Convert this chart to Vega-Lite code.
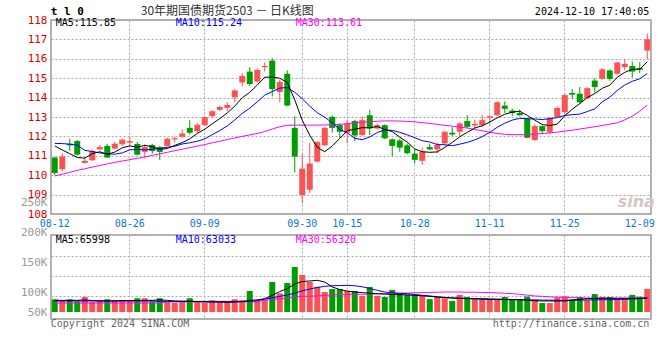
{
"$schema": "https://vega.github.io/schema/vega-lite/v6.json",
"background": "white",
"autosize": {"type": "pad"},
"padding": {"left": 19, "top": 4, "right": 9, "bottom": 5},
"bounds": "flush",
"spacing": 21,
"config": {
 "view": {"stroke": "#999", "strokeWidth": 1.5},
 "axis": {"labelFont": "DejaVu Sans Mono", "labelFontSize": 10, "ticks": false, "tickSize": 0, "domain": false, "gridColor": "#aaa", "gridDash": [2, 2], "gridWidth": 1}
},
"data": {"values": [
{"d":"08-12","o":110.91,"h":110.95,"l":110.00,"c":110.11,"v":61000,"m5":111.51,"m10":111.64,"m30":109.96,"vm5":56000,"vm10":53000,"vm30":43000},
{"d":"08-13","o":110.31,"h":111.13,"l":110.21,"c":110.96,"v":53000,"m5":111.30,"m10":111.63,"m30":110.05,"vm5":56000,"vm10":53000,"vm30":43000},
{"d":"08-14","o":111.62,"h":111.88,"l":111.25,"c":111.54,"v":61000,"m5":111.11,"m10":111.60,"m30":110.15,"vm5":56000,"vm10":53000,"vm30":43000},
{"d":"08-15","o":111.76,"h":111.81,"l":111.02,"c":111.06,"v":51000,"m5":110.91,"m10":111.55,"m30":110.25,"vm5":56000,"vm10":53000,"vm30":43000},
{"d":"08-16","o":110.63,"h":110.91,"l":110.60,"c":110.74,"v":72000,"m5":110.88,"m10":111.28,"m30":110.33,"vm5":58000,"vm10":53000,"vm30":43000},
{"d":"08-19","o":110.77,"h":111.33,"l":110.74,"c":111.25,"v":48000,"m5":111.11,"m10":111.22,"m30":110.42,"vm5":55000,"vm10":53000,"vm30":43000},
{"d":"08-20","o":111.33,"h":111.56,"l":111.30,"c":111.45,"v":53000,"m5":111.21,"m10":111.15,"m30":110.50,"vm5":53000,"vm10":53000,"vm30":43000},
{"d":"08-21","o":111.51,"h":111.62,"l":110.88,"c":110.91,"v":61000,"m5":111.08,"m10":111.10,"m30":110.58,"vm5":53000,"vm10":53000,"vm30":43000},
{"d":"08-22","o":111.37,"h":111.73,"l":111.33,"c":111.62,"v":56000,"m5":111.19,"m10":111.08,"m30":110.66,"vm5":53000,"vm10":53000,"vm30":43000},
{"d":"08-23","o":111.59,"h":111.90,"l":111.51,"c":111.83,"v":56000,"m5":111.41,"m10":111.15,"m30":110.73,"vm5":55000,"vm10":53000,"vm30":43000},
{"d":"08-26","o":111.68,"h":111.98,"l":111.45,"c":111.76,"v":53000,"m5":111.51,"m10":111.31,"m30":110.80,"vm5":55000,"vm10":53000,"vm30":43000},
{"d":"08-27","o":111.61,"h":111.71,"l":111.02,"c":111.06,"v":66000,"m5":111.44,"m10":111.32,"m30":110.87,"vm5":55000,"vm10":53000,"vm30":43000},
{"d":"08-28","o":111.20,"h":111.59,"l":110.86,"c":111.45,"v":66000,"m5":111.54,"m10":111.31,"m30":110.94,"vm5":56000,"vm10":53000,"vm30":43000},
{"d":"08-29","o":111.56,"h":111.62,"l":111.11,"c":111.25,"v":51000,"m5":111.47,"m10":111.33,"m30":111.02,"vm5":56000,"vm10":53000,"vm30":43000},
{"d":"08-30","o":111.45,"h":111.51,"l":110.79,"c":111.20,"v":66000,"m5":111.34,"m10":111.38,"m30":111.10,"vm5":58000,"vm10":51000,"vm30":43000},
{"d":"09-02","o":111.51,"h":111.93,"l":111.48,"c":111.88,"v":48000,"m5":111.37,"m10":111.44,"m30":111.18,"vm5":56000,"vm10":51000,"vm30":49000},
{"d":"09-03","o":111.85,"h":111.98,"l":111.68,"c":111.91,"v":45000,"m5":111.54,"m10":111.49,"m30":111.26,"vm5":53000,"vm10":51000,"vm30":49000},
{"d":"09-04","o":111.98,"h":112.36,"l":111.93,"c":112.15,"v":48000,"m5":111.68,"m10":111.61,"m30":111.34,"vm5":52000,"vm10":51000,"vm30":49000},
{"d":"09-05","o":112.44,"h":112.84,"l":112.10,"c":112.19,"v":66000,"m5":111.87,"m10":111.67,"m30":111.42,"vm5":52000,"vm10":51000,"vm30":49000},
{"d":"09-06","o":112.27,"h":112.70,"l":112.19,"c":112.60,"v":50000,"m5":112.15,"m10":111.75,"m30":111.50,"vm5":50000,"vm10":51000,"vm30":49000},
{"d":"09-09","o":112.58,"h":113.04,"l":112.56,"c":112.99,"v":43000,"m5":112.37,"m10":111.87,"m30":111.58,"vm5":48000,"vm10":51000,"vm30":49000},
{"d":"09-10","o":113.04,"h":113.35,"l":112.96,"c":113.30,"v":56000,"m5":112.65,"m10":112.09,"m30":111.67,"vm5":48000,"vm10":51000,"vm30":49000},
{"d":"09-11","o":113.37,"h":113.59,"l":113.30,"c":113.52,"v":50000,"m5":112.92,"m10":112.30,"m30":111.75,"vm5":48000,"vm10":51000,"vm30":49000},
{"d":"09-12","o":113.47,"h":113.76,"l":113.30,"c":113.62,"v":45000,"m5":113.21,"m10":112.54,"m30":111.84,"vm5":46000,"vm10":51000,"vm30":49000},
{"d":"09-13","o":114.01,"h":114.44,"l":113.76,"c":114.37,"v":61000,"m5":113.56,"m10":112.85,"m30":111.92,"vm5":48000,"vm10":51000,"vm30":49000},
{"d":"09-18","o":114.78,"h":115.26,"l":114.58,"c":115.12,"v":56000,"m5":113.99,"m10":113.18,"m30":112.00,"vm5":50000,"vm10":51000,"vm30":49000},
{"d":"09-19","o":115.34,"h":115.57,"l":114.61,"c":114.70,"v":101000,"m5":114.27,"m10":113.46,"m30":112.08,"vm5":56000,"vm10":50000,"vm30":49000},
{"d":"09-20","o":114.83,"h":115.52,"l":114.78,"c":115.43,"v":55000,"m5":114.65,"m10":113.78,"m30":112.15,"vm5":58000,"vm10":55000,"vm30":49000},
{"d":"09-23","o":115.57,"h":115.82,"l":115.34,"c":115.63,"v":58000,"m5":115.05,"m10":114.13,"m30":112.25,"vm5":64000,"vm10":62000,"vm30":57000},
{"d":"09-24","o":115.91,"h":116.03,"l":114.06,"c":114.44,"v":144000,"m5":115.06,"m10":114.31,"m30":112.38,"vm5":80000,"vm10":68000,"vm30":60000},
{"d":"09-25","o":114.29,"h":114.92,"l":113.76,"c":114.80,"v":90000,"m5":115.00,"m10":114.49,"m30":112.50,"vm5":98000,"vm10":75000,"vm30":63000},
{"d":"09-26","o":115.23,"h":115.40,"l":113.55,"c":113.59,"v":139000,"m5":114.78,"m10":114.52,"m30":112.57,"vm5":112000,"vm10":82000,"vm30":66000},
{"d":"09-27","o":112.44,"h":113.04,"l":110.14,"c":110.96,"v":216000,"m5":113.88,"m10":114.27,"m30":112.58,"vm5":135000,"vm10":90000,"vm30":72000},
{"d":"09-30","o":108.98,"h":111.11,"l":108.55,"c":110.34,"v":178000,"m5":112.83,"m10":113.94,"m30":112.58,"vm5":146000,"vm10":102000,"vm30":75000},
{"d":"10-08","o":109.25,"h":111.68,"l":109.08,"c":110.60,"v":144000,"m5":112.06,"m10":113.56,"m30":112.58,"vm5":149000,"vm10":110000,"vm30":76000},
{"d":"10-09","o":110.70,"h":111.76,"l":110.65,"c":111.71,"v":121000,"m5":111.44,"m10":113.22,"m30":112.58,"vm5":152000,"vm10":118000,"vm30":77000},
{"d":"10-10","o":111.54,"h":112.49,"l":111.51,"c":112.44,"v":96000,"m5":111.21,"m10":112.99,"m30":112.59,"vm5":144000,"vm10":123000,"vm30":80000},
{"d":"10-11","o":113.01,"h":113.08,"l":112.19,"c":112.44,"v":110000,"m5":111.51,"m10":112.70,"m30":112.60,"vm5":120000,"vm10":126000,"vm30":82000},
{"d":"10-14","o":112.58,"h":112.67,"l":111.93,"c":112.24,"v":110000,"m5":111.89,"m10":112.36,"m30":112.62,"vm5":108000,"vm10":127000,"vm30":83000},
{"d":"10-15","o":112.19,"h":112.87,"l":111.64,"c":112.67,"v":102000,"m5":112.30,"m10":112.18,"m30":112.65,"vm5":100000,"vm10":128000,"vm30":84000},
{"d":"10-16","o":112.79,"h":112.86,"l":111.76,"c":112.05,"v":101000,"m5":112.37,"m10":111.90,"m30":112.70,"vm5":96000,"vm10":126000,"vm30":85000},
{"d":"10-17","o":112.07,"h":113.04,"l":112.02,"c":112.84,"v":77000,"m5":112.45,"m10":111.83,"m30":112.73,"vm5":93000,"vm10":121000,"vm30":85000},
{"d":"10-18","o":113.09,"h":113.38,"l":112.07,"c":112.41,"v":120000,"m5":112.44,"m10":111.97,"m30":112.76,"vm5":90000,"vm10":113000,"vm30":86000},
{"d":"10-21","o":112.41,"h":112.67,"l":112.36,"c":112.58,"v":77000,"m5":112.51,"m10":112.20,"m30":112.78,"vm5":88000,"vm10":104000,"vm30":87000},
{"d":"10-22","o":112.58,"h":112.62,"l":111.85,"c":111.90,"v":72000,"m5":112.36,"m10":112.33,"m30":112.80,"vm5":86000,"vm10":96000,"vm30":88000},
{"d":"10-23","o":111.85,"h":111.90,"l":110.99,"c":111.51,"v":106000,"m5":112.25,"m10":112.31,"m30":112.80,"vm5":84000,"vm10":92000,"vm30":89000},
{"d":"10-24","o":111.79,"h":111.88,"l":111.21,"c":111.42,"v":88000,"m5":111.96,"m10":112.21,"m30":112.79,"vm5":83000,"vm10":90000,"vm30":90000},
{"d":"10-25","o":111.54,"h":111.64,"l":111.08,"c":111.13,"v":82000,"m5":111.71,"m10":112.08,"m30":112.77,"vm5":82000,"vm10":88000,"vm30":91000},
{"d":"10-28","o":111.11,"h":111.33,"l":110.60,"c":110.79,"v":82000,"m5":111.35,"m10":111.93,"m30":112.75,"vm5":80000,"vm10":84000,"vm30":92000},
{"d":"10-29","o":110.74,"h":111.42,"l":110.53,"c":111.21,"v":82000,"m5":111.21,"m10":111.78,"m30":112.71,"vm5":78000,"vm10":80000,"vm30":93000},
{"d":"10-30","o":111.45,"h":111.62,"l":111.30,"c":111.33,"v":62000,"m5":111.18,"m10":111.71,"m30":112.67,"vm5":75000,"vm10":77000,"vm30":94000},
{"d":"10-31","o":111.33,"h":111.68,"l":111.13,"c":111.56,"v":72000,"m5":111.20,"m10":111.58,"m30":112.62,"vm5":72000,"vm10":73000,"vm30":95000},
{"d":"11-01","o":111.64,"h":112.27,"l":111.54,"c":112.24,"v":66000,"m5":111.43,"m10":111.57,"m30":112.57,"vm5":69000,"vm10":70000,"vm30":96000},
{"d":"11-04","o":112.19,"h":112.48,"l":112.02,"c":112.10,"v":53000,"m5":111.69,"m10":111.52,"m30":112.53,"vm5":67000,"vm10":68000,"vm30":96000},
{"d":"11-05","o":112.24,"h":112.73,"l":112.02,"c":112.67,"v":82000,"m5":111.98,"m10":111.60,"m30":112.48,"vm5":65000,"vm10":67000,"vm30":96000},
{"d":"11-06","o":112.79,"h":113.09,"l":112.44,"c":112.49,"v":72000,"m5":112.21,"m10":111.69,"m30":112.43,"vm5":64000,"vm10":65000,"vm30":95000},
{"d":"11-07","o":112.56,"h":112.87,"l":112.44,"c":112.65,"v":62000,"m5":112.43,"m10":111.82,"m30":112.36,"vm5":64000,"vm10":63000,"vm30":95000},
{"d":"11-08","o":112.58,"h":113.11,"l":112.49,"c":112.84,"v":62000,"m5":112.55,"m10":111.99,"m30":112.29,"vm5":64000,"vm10":61000,"vm30":94000},
{"d":"11-11","o":112.96,"h":113.11,"l":112.62,"c":113.04,"v":62000,"m5":112.74,"m10":112.21,"m30":112.22,"vm5":63000,"vm10":60000,"vm30":93000},
{"d":"11-12","o":113.09,"h":113.81,"l":113.04,"c":113.76,"v":62000,"m5":112.96,"m10":112.47,"m30":112.15,"vm5":62000,"vm10":60000,"vm30":92000},
{"d":"11-13","o":113.59,"h":113.81,"l":113.21,"c":113.42,"v":72000,"m5":113.14,"m10":112.68,"m30":112.11,"vm5":61000,"vm10":59000,"vm30":90000},
{"d":"11-14","o":113.33,"h":113.43,"l":113.04,"c":113.21,"v":62000,"m5":113.25,"m10":112.84,"m30":112.09,"vm5":60000,"vm10":59000,"vm30":88000},
{"d":"11-15","o":113.21,"h":113.38,"l":113.04,"c":113.09,"v":62000,"m5":113.30,"m10":112.93,"m30":112.09,"vm5":59000,"vm10":59000,"vm30":85000},
{"d":"11-18","o":112.92,"h":112.96,"l":111.90,"c":111.93,"v":74000,"m5":113.08,"m10":112.91,"m30":112.09,"vm5":57000,"vm10":58000,"vm30":81000},
{"d":"11-19","o":111.81,"h":112.62,"l":111.76,"c":112.53,"v":59000,"m5":112.84,"m10":112.90,"m30":112.12,"vm5":54000,"vm10":58000,"vm30":77000},
{"d":"11-20","o":112.53,"h":112.56,"l":112.10,"c":112.27,"v":43000,"m5":112.61,"m10":112.87,"m30":112.15,"vm5":53000,"vm10":57000,"vm30":75000},
{"d":"11-21","o":112.22,"h":112.99,"l":112.14,"c":112.96,"v":43000,"m5":112.56,"m10":112.91,"m30":112.18,"vm5":53000,"vm10":57000,"vm30":73000},
{"d":"11-22","o":113.01,"h":113.55,"l":112.96,"c":113.47,"v":70000,"m5":112.63,"m10":112.97,"m30":112.22,"vm5":53000,"vm10":56000,"vm30":71000},
{"d":"11-25","o":113.25,"h":114.18,"l":113.21,"c":114.13,"v":76000,"m5":113.07,"m10":113.08,"m30":112.27,"vm5":53000,"vm10":56000,"vm30":70000},
{"d":"11-26","o":114.24,"h":114.44,"l":113.93,"c":114.15,"v":60000,"m5":113.40,"m10":113.12,"m30":112.32,"vm5":57000,"vm10":57000,"vm30":69000},
{"d":"11-27","o":114.20,"h":114.54,"l":113.69,"c":113.76,"v":72000,"m5":113.69,"m10":113.15,"m30":112.38,"vm5":61000,"vm10":57000,"vm30":68000},
{"d":"11-28","o":113.98,"h":114.54,"l":113.93,"c":114.49,"v":57000,"m5":114.00,"m10":113.28,"m30":112.44,"vm5":64000,"vm10":58000,"vm30":67000},
{"d":"11-29","o":114.88,"h":115.00,"l":114.27,"c":114.54,"v":86000,"m5":114.21,"m10":113.42,"m30":112.50,"vm5":66000,"vm10":58000,"vm30":66000},
{"d":"12-02","o":114.97,"h":115.52,"l":114.92,"c":115.46,"v":72000,"m5":114.48,"m10":113.78,"m30":112.56,"vm5":66000,"vm10":59000,"vm30":66000},
{"d":"12-03","o":115.40,"h":115.46,"l":114.87,"c":114.97,"v":72000,"m5":114.64,"m10":114.02,"m30":112.63,"vm5":66000,"vm10":59000,"vm30":66000},
{"d":"12-04","o":115.23,"h":115.84,"l":115.17,"c":115.81,"v":62000,"m5":115.05,"m10":114.37,"m30":112.70,"vm5":66000,"vm10":60000,"vm30":66000},
{"d":"12-05","o":115.57,"h":115.99,"l":115.40,"c":115.74,"v":62000,"m5":115.30,"m10":114.65,"m30":112.85,"vm5":66000,"vm10":61000,"vm30":66000},
{"d":"12-06","o":115.63,"h":115.86,"l":115.04,"c":115.34,"v":82000,"m5":115.46,"m10":114.84,"m30":113.04,"vm5":66000,"vm10":62000,"vm30":66000},
{"d":"12-09","o":115.52,"h":115.82,"l":115.26,"c":115.43,"v":73000,"m5":115.46,"m10":114.97,"m30":113.30,"vm5":66000,"vm10":64000,"vm30":66000},
{"d":"12-10","o":116.42,"h":117.31,"l":115.98,"c":117.00,"v":111000,"m5":115.85,"m10":115.24,"m30":113.61,"vm5":66000,"vm10":69000,"vm30":66000}
]},
"vconcat": [
{
 "width": 600, "height": 194,
 "encoding": {
  "x": {"field": "d", "type": "ordinal", "title": null, "scale": {"paddingInner": 0, "paddingOuter": 0},
   "axis": {"values": ["08-12","08-26","09-09","09-30","10-15","10-28","11-11","11-25","12-09"], "labelAngle": 0, "labelColor": "#0a78d2", "labelPadding": 4, "labelFontSize": 10, "grid": true,
    "gridOpacity": {"condition": {"test": "datum.value === '08-12' || datum.value === '12-09'", "value": 0}, "value": 1}}}
 },
 "layer": [
  {"mark": {"type": "rule", "strokeWidth": 1},
   "encoding": {
    "y": {"field": "l", "type": "quantitative", "title": null, "scale": {"domain": [108, 118], "nice": false, "zero": false},
     "axis": {"values": [108,109,110,111,112,113,114,115,116,117,118], "tickCount": 20, "format": "d", "labelOverlap": false, "labelColor": "#e00000", "labelFontSize": 11, "labelPadding": 4, "grid": true}},
    "y2": {"field": "h"},
    "color": {"condition": {"test": "datum.c >= datum.o", "value": "#fa5353"}, "value": "#009c00"}}},
  {"mark": {"type": "bar", "width": {"band": 0.8}},
   "encoding": {
    "y": {"field": "o", "type": "quantitative", "title": null},
    "y2": {"field": "c"},
    "color": {"condition": {"test": "datum.c >= datum.o", "value": "#fa5353"}, "value": "#009c00"}}},
  {"mark": {"type": "line", "strokeWidth": 1, "color": "#ff00ff"}, "encoding": {"y": {"field": "m30", "type": "quantitative", "title": null}}},
  {"mark": {"type": "line", "strokeWidth": 1, "color": "#0000ff"}, "encoding": {"y": {"field": "m10", "type": "quantitative", "title": null}}},
  {"mark": {"type": "line", "strokeWidth": 1, "color": "#000000"}, "encoding": {"y": {"field": "m5", "type": "quantitative", "title": null}}},
  {"data": {"values": [{}]}, "mark": {"type": "text", "text": "t l 0", "font": "DejaVu Sans Mono", "fontWeight": "bold", "fontSize": 11, "align": "left", "baseline": "middle", "dx": -4, "color": "#000"},
   "encoding": {"x": {"datum": "08-12", "type": "ordinal"}, "y": {"datum": 118.39, "type": "quantitative"}}},
  {"data": {"values": [{}]}, "mark": {"type": "text", "text": "30年期国债期货2503 － 日K线图", "font": "Noto Sans CJK SC", "fontSize": 12, "align": "left", "baseline": "middle", "dx": -4, "color": "#333"},
   "encoding": {"x": {"datum": "08-28", "type": "ordinal"}, "y": {"datum": 118.46, "type": "quantitative"}}},
  {"data": {"values": [{}]}, "mark": {"type": "text", "text": "2024-12-10 17:40:05", "font": "DejaVu Sans Mono", "fontSize": 10, "align": "right", "baseline": "middle", "dx": 2, "color": "#000"},
   "encoding": {"x": {"datum": "12-10", "type": "ordinal"}, "y": {"datum": 118.39, "type": "quantitative"}}},
  {"data": {"values": [{}]}, "mark": {"type": "text", "text": "MA5:115.85", "font": "DejaVu Sans Mono", "fontSize": 10, "align": "left", "baseline": "middle", "dx": 1, "color": "#000"},
   "encoding": {"x": {"datum": "08-12", "type": "ordinal"}, "y": {"datum": 117.83, "type": "quantitative"}}},
  {"data": {"values": [{}]}, "mark": {"type": "text", "text": "MA10:115.24", "font": "DejaVu Sans Mono", "fontSize": 10, "align": "left", "baseline": "middle", "dx": 1, "color": "#0000ff"},
   "encoding": {"x": {"datum": "09-03", "type": "ordinal"}, "y": {"datum": 117.83, "type": "quantitative"}}},
  {"data": {"values": [{}]}, "mark": {"type": "text", "text": "MA30:113.61", "font": "DejaVu Sans Mono", "fontSize": 10, "align": "left", "baseline": "middle", "dx": 1, "color": "#ff00ff"},
   "encoding": {"x": {"datum": "09-27", "type": "ordinal"}, "y": {"datum": 117.83, "type": "quantitative"}}},
  {"data": {"values": [{}]}, "mark": {"type": "text", "text": "sina", "font": "DejaVu Sans", "fontWeight": "bold", "fontStyle": "italic", "fontSize": 16, "align": "center", "baseline": "middle", "dx": 4, "color": "#d9c4c4"},
   "encoding": {"x": {"datum": "12-06", "type": "ordinal"}, "y": {"datum": 108.62, "type": "quantitative"}}}
 ]
},
{
 "width": 600, "height": 84,
 "encoding": {
  "x": {"field": "d", "type": "ordinal", "title": null, "scale": {"paddingInner": 0, "paddingOuter": 0},
   "axis": {"values": ["08-12","08-26","09-09","09-30","10-15","10-28","11-11","11-25","12-09"], "labels": false, "grid": true,
    "gridOpacity": {"condition": {"test": "datum.value === '08-12' || datum.value === '12-09'", "value": 0}, "value": 1}}}
 },
 "layer": [
  {
   "layer": [
    {"mark": {"type": "bar", "width": {"band": 0.8}},
     "encoding": {
      "y": {"field": "v", "type": "quantitative", "title": null, "scale": {"domain": [-33600, 369600], "nice": false, "zero": false},
       "axis": {"orient": "left", "values": [76800, 172800, 268800], "tickCount": 20, "labels": false, "grid": true}},
      "y2": {"datum": 0},
      "color": {"condition": {"test": "datum.c >= datum.o", "value": "#fa5353"}, "value": "#009c00"}}},
    {"mark": {"type": "line", "strokeWidth": 1, "color": "#ff00ff"}, "encoding": {"y": {"field": "vm30", "type": "quantitative", "title": null}}},
    {"mark": {"type": "line", "strokeWidth": 1, "color": "#0000ff"}, "encoding": {"y": {"field": "vm10", "type": "quantitative", "title": null}}},
    {"mark": {"type": "line", "strokeWidth": 1, "color": "#000000"}, "encoding": {"y": {"field": "vm5", "type": "quantitative", "title": null}}},
    {"data": {"values": [{}]}, "mark": {"type": "text", "text": "MA5:65998", "font": "DejaVu Sans Mono", "fontSize": 10, "align": "left", "baseline": "middle", "dx": 1, "color": "#000"},
     "encoding": {"x": {"datum": "08-12", "type": "ordinal"}, "y": {"datum": 345600, "type": "quantitative"}}},
    {"data": {"values": [{}]}, "mark": {"type": "text", "text": "MA10:63033", "font": "DejaVu Sans Mono", "fontSize": 10, "align": "left", "baseline": "middle", "dx": 1, "color": "#0000ff"},
     "encoding": {"x": {"datum": "09-03", "type": "ordinal"}, "y": {"datum": 345600, "type": "quantitative"}}},
    {"data": {"values": [{}]}, "mark": {"type": "text", "text": "MA30:56320", "font": "DejaVu Sans Mono", "fontSize": 10, "align": "left", "baseline": "middle", "dx": 1, "color": "#ff00ff"},
     "encoding": {"x": {"datum": "09-27", "type": "ordinal"}, "y": {"datum": 345600, "type": "quantitative"}}},
    {"data": {"values": [{}]}, "mark": {"type": "text", "text": "Copyright 2024 SINA.COM", "font": "DejaVu Sans Mono", "fontSize": 10, "align": "left", "baseline": "middle", "dx": -4, "color": "#666"},
     "encoding": {"x": {"datum": "08-12", "type": "ordinal"}, "y": {"datum": -57600, "type": "quantitative"}}},
    {"data": {"values": [{}]}, "mark": {"type": "text", "text": "http://finance.sina.com.cn", "font": "DejaVu Sans Mono", "fontSize": 10, "align": "right", "baseline": "middle", "dx": 2, "color": "#666"},
     "encoding": {"x": {"datum": "12-10", "type": "ordinal"}, "y": {"datum": -57600, "type": "quantitative"}}}
   ]
  },
  {"mark": {"type": "point", "opacity": 0},
   "encoding": {
    "y": {"field": "v", "type": "quantitative", "title": null, "scale": {"domain": [50000, 250000], "range": [87, -33], "nice": false, "zero": false},
     "axis": {"orient": "left", "values": [50000, 100000, 150000, 200000, 250000], "tickCount": 20, "labelOverlap": false, "labelExpr": "(datum.value / 1000) + 'K'", "labelColor": "#999", "labelFontSize": 11, "labelPadding": 4, "grid": false,
      "labelOffset": {"condition": {"test": "datum.value === 50000", "value": -10}, "value": 0}}}}}
 ],
 "resolve": {"scale": {"y": "independent"}, "axis": {"y": "independent"}}
}
]
}
